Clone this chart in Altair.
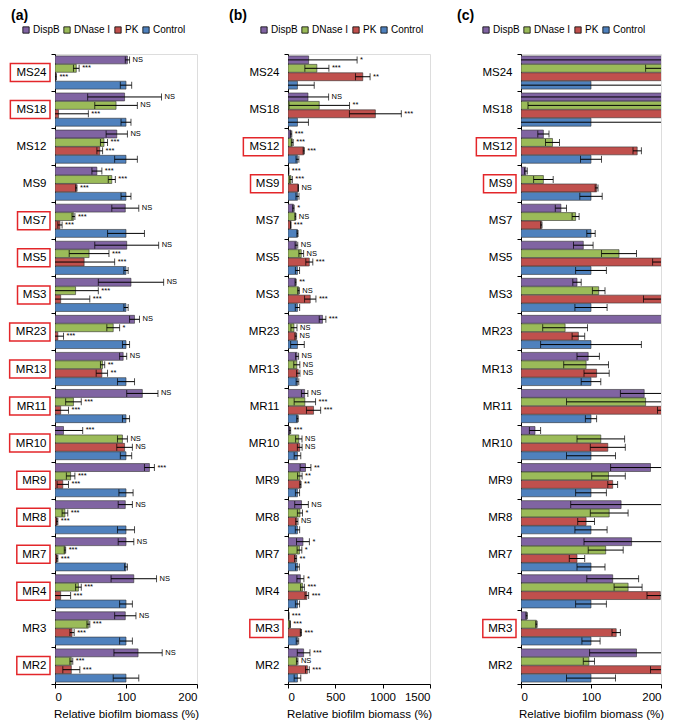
import altair as alt
import pandas as pd

FONT = "Liberation Sans"

cats = ["MS24", "MS18", "MS12", "MS9", "MS7", "MS5", "MS3", "MR23", "MR13",
        "MR11", "MR10", "MR9", "MR8", "MR7", "MR4", "MR3", "MR2"]
treatments = ["DispB", "DNase I", "PK", "Control"]
colors = ["#8064A2", "#9BBB59", "#C0504D", "#4F81BD"]

# ---------------- panel (a) ----------------
a_dispb = [102, 98, 87, 59, 99, 101, 107, 112, 96, 123, 12, 133, 99, 100, 111, 99, 117]
a_dispb_err = [3, 52, 15, 7, 19, 45, 46, 7, 5, 22, 27, 7, 10, 11, 32, 15, 34]
a_dnase = [30, 86, 69, 80, 26, 48, 29, 82, 67, 26, 95, 22, 14, 14, 33, 47, 23]
a_dnase_err = [4, 30, 5, 5, 2, 28, 32, 9, 3, 11, 7, 6, 4, 1, 4, 2, 2]
a_pk = [1, 5, 63, 30, 7, 41, 8, 4, 66, 8, 98, 11, 3, 3, 8, 24, 23]
a_pk_err = [1, 42, 4, 1, 3, 43, 41, 8, 8, 11, 11, 8, 1, 1, 14, 3, 12]
a_ctrl = [100] * 17
a_ctrl_err = [8, 7, 16, 7, 26, 3, 3, 5, 12, 5, 8, 10, 12, 2, 9, 9, 18]
a_dispb_sig = ["NS", "NS", "NS", "***", "NS", "NS", "NS", "NS", "NS", "NS", "***", "***", "NS", "NS", "NS", "NS", "NS"]
a_dnase_sig = ["***", "NS", "***", "***", "***", "***", "***", "*", "**", "***", "NS", "***", "***", "***", "***", "***", "***"]
a_pk_sig = ["***", "***", "***", "***", "***", "***", "***", "***", "**", "***", "NS", "***", "***", "***", "***", "***", "***"]
a_boxed = ["MS24", "MS18", "MS7", "MS5", "MS3", "MR23", "MR13", "MR11", "MR10",
           "MR9", "MR8", "MR7", "MR4", "MR2"]

# ---------------- panels (b) and (c) (same data, (c) zoomed to 0-200) ----------------
b_dispb = [218, 211, 32, 7, 57, 89, 80, 365, 96, 176, 20, 185, 143, 158, 131, 8, 165]
b_dispb_err = [512, 218, 8, 2, 8, 14, 6, 35, 16, 34, 8, 57, 72, 68, 37, 1, 67]
b_dnase = [305, 330, 45, 32, 78, 140, 111, 63, 93, 178, 114, 125, 126, 121, 153, 22, 97]
b_dnase_err = [127, 320, 10, 14, 5, 25, 9, 32, 32, 113, 34, 24, 27, 25, 20, 1, 8]
b_pk = [790, 923, 166, 108, 29, 225, 235, 82, 108, 270, 124, 131, 93, 80, 199, 136, 205]
b_pk_err = [77, 274, 6, 2, 1, 37, 60, 9, 18, 75, 25, 7, 12, 11, 19, 6, 20]
b_ctrl = [100] * 17
b_ctrl_err = [177, 116, 15, 16, 6, 22, 23, 72, 14, 8, 35, 22, 23, 20, 22, 13, 35]
b_dispb_sig = ["*", "NS", "***", "***", "*", "NS", "**", "***", "NS", "NS", "***", "**", "NS", "*", "*", "***", "***"]
b_dnase_sig = ["***", "**", "***", "***", "NS", "NS", "NS", "NS", "NS", "***", "NS", "**", "*", "*", "***", "***", "NS"]
b_pk_sig = ["**", "***", "***", "NS", "***", "***", "***", "NS", "NS", "***", "NS", "**", "NS", "**", "***", "***", "***"]
bc_boxed = ["MS12", "MS9", "MR3"]

blank_sig = [""] * 17


def long_df(means, errs, sigs):
    rows = []
    for t, m, e, s in zip(treatments, means, errs, sigs):
        for c, mv, ev, sv in zip(cats, m, e, s):
            rows.append(dict(cat=c, trt=t, mean=mv, lo=mv - ev, hi=mv + ev, sig=sv))
    return pd.DataFrame(rows)


df_a = long_df([a_dispb, a_dnase, a_pk, a_ctrl],
               [a_dispb_err, a_dnase_err, a_pk_err, a_ctrl_err],
               [a_dispb_sig, a_dnase_sig, a_pk_sig, blank_sig])
df_b = long_df([b_dispb, b_dnase, b_pk, b_ctrl],
               [b_dispb_err, b_dnase_err, b_pk_err, b_ctrl_err],
               [b_dispb_sig, b_dnase_sig, b_pk_sig, blank_sig])

LABEL_FS = 11.5


def text_w(s, fs=LABEL_FS):
    widths = {"M": 0.833, "S": 0.667, "R": 0.722}
    return sum(widths.get(ch, 0.556) for ch in s) * fs * 1.12


def panel(df, boxed, xdomain, xticks, title, title_dx, legend_x, width, show_sig):
    y = alt.Y("cat:N", sort=cats,
              scale=alt.Scale(paddingInner=0, paddingOuter=0),
              axis=alt.Axis(title=None, tickBand="extent", tickSize=4, labelPadding=5,
                            labelFontSize=LABEL_FS, labelFont=FONT, labelColor="black",
                            domainColor="black", tickColor="black"))
    yoff = alt.YOffset("trt:N", sort=treatments,
                       scale=alt.Scale(paddingInner=0.06, paddingOuter=0.23))
    xscale = alt.Scale(domain=xdomain, nice=False, zero=False)
    xaxis = alt.Axis(values=xticks, title="Relative biofilm biomass (%)", grid=False,
                     tickSize=4, labelPadding=3, labelFontSize=11.5, labelFont=FONT,
                     labelColor="black", titleFont=FONT, titleFontSize=11.5,
                     titleFontWeight="normal", titleColor="black", titlePadding=6,
                     domainColor="black", tickColor="black", format="d")

    bars = alt.Chart(df).mark_bar(stroke="#333333", strokeWidth=0.6, clip=True).encode(
        x=alt.X("mean:Q", scale=xscale, axis=xaxis),
        y=y, yOffset=yoff,
        color=alt.Color("trt:N", sort=treatments,
                        scale=alt.Scale(domain=treatments, range=colors),
                        legend=alt.Legend(orient="none", direction="horizontal",
                                          legendX=legend_x, legendY=-29, title=None,
                                          symbolType="square", symbolSize=40,
                                          symbolStrokeColor="black", symbolStrokeWidth=0.8,
                                          labelFont=FONT, labelFontSize=10,
                                          labelColor="black", labelOffset=2,
                                          columnPadding=2, padding=0)),
    )
    rules = alt.Chart(df).mark_rule(color="black", strokeWidth=1, clip=True).encode(
        x=alt.X("lo:Q", scale=xscale, axis=xaxis), x2="hi:Q", y=y, yOffset=yoff)
    cap_lo = alt.Chart(df).mark_tick(color="black", size=7, thickness=1, clip=True).encode(
        x=alt.X("lo:Q", scale=xscale, axis=xaxis), y=y, yOffset=yoff)
    cap_hi = alt.Chart(df).mark_tick(color="black", size=7, thickness=1, clip=True).encode(
        x=alt.X("hi:Q", scale=xscale, axis=xaxis), y=y, yOffset=yoff)
    layers = [bars, rules, cap_lo, cap_hi]
    if show_sig:
        txt = alt.Chart(df).mark_text(align="left", baseline="middle", dx=3, fontSize=7.5,
                                      font=FONT, color="black", fill="black").encode(
            x=alt.X("hi:Q", scale=xscale, axis=xaxis), y=y, yOffset=yoff, text="sig:N")
        layers.append(txt)
    for lab in boxed:
        w = text_w(lab) + 6
        layers.append(
            alt.Chart(pd.DataFrame({"cat": [lab]})).mark_bar(
                height=18, fill="white", fillOpacity=0, stroke="#E3262A",
                strokeWidth=1.5, clip=False).encode(
                y=y, x=alt.value(-5 - w), x2=alt.value(-5)))
    return alt.layer(*layers).properties(
        width=width, height=630,
        title=alt.TitleParams(title, anchor="start", frame="group", dx=title_dx,
                              fontSize=14, fontWeight="bold", font=FONT, color="black",
                              offset=2))


pa = panel(df_a, a_boxed, [0, 200], [0, 100, 200], "(a)", -44, -34, 142, True)
pb = panel(df_b, bc_boxed, [0, 1500], [0, 500, 1000, 1500], "(b)", -59, -29, 142, True)
pc = panel(df_b, bc_boxed, [0, 200], [0, 100, 200], "(c)", -64, -40, 140, False)

chart = alt.hconcat(pa, pb, pc, spacing=91, bounds="flush", padding=0).resolve_scale(
    color="independent", x="independent", y="independent"
).resolve_legend(color="independent").configure_view(strokeWidth=0).configure(
    background="white")

chart.save("out.html", embed_options={"renderer": "svg", "actions": False})
